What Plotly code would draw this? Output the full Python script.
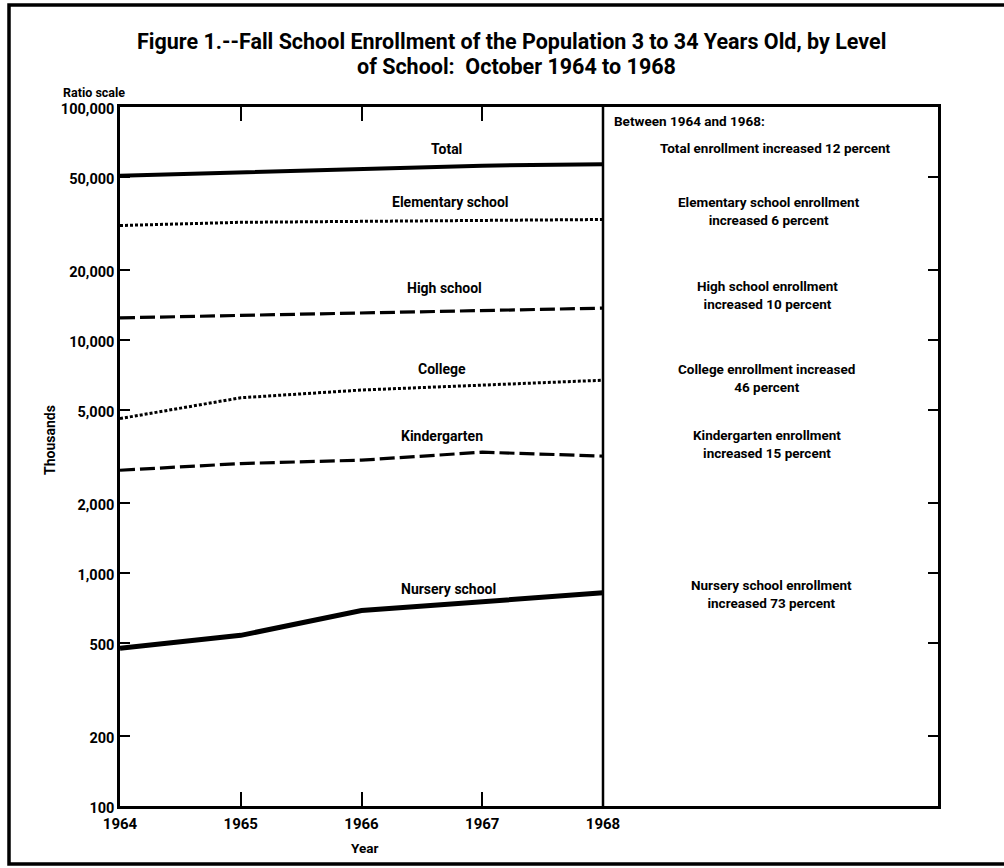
import plotly.graph_objects as go

# Fall enrollment, persons 3 to 34 years old (thousands)
years = [1964, 1965, 1966, 1967, 1968]
total = [50700, 52500, 54400, 56000, 56800]
elementary = [31000, 32000, 32300, 32600, 32900]
high_school = [12450, 12750, 13100, 13400, 13700]
college = [4600, 5650, 6100, 6400, 6720]
kindergarten = [2760, 2950, 3050, 3300, 3175]
nursery = [475, 540, 690, 750, 822]

series_names = ["Total", "Elementary school", "High school", "College",
                "Kindergarten", "Nursery school"]

change_notes = [
    "Total enrollment increased 12 percent",
    "Elementary school enrollment<br>increased 6 percent",
    "High school enrollment<br>increased 10 percent",
    "College enrollment increased<br>46 percent",
    "Kindergarten enrollment<br>increased 15 percent",
    "Nursery school enrollment<br>increased 73 percent",
]

y_tick_vals = [100, 200, 500, 1000, 2000, 5000, 10000, 20000, 50000, 100000]
y_tick_text = ["100", "200", "500", "1,000", "2,000", "5,000", "10,000",
               "20,000", "50,000", "100,000"]
x_tick_vals = [1964, 1965, 1966, 1967, 1968]
x_tick_text = ["1964", "1965", "1966", "1967", "1968"]

FONT = "Roboto, Liberation Sans, Arial, sans-serif"
W, H = 1004, 868
L, R, T, B = 120, 938, 107, 806   # plot area edges in pixels
X_1968 = 603                      # pixel column of the 1968 divider


def px(x):
    return (x - L) / (R - L)


def py(y):
    return (B - y) / (B - T)


def text_note(text, x, y, size, xanchor="center", **extra):
    return dict(x=px(x), y=py(y), xref="paper", yref="paper",
                xanchor=xanchor, yanchor="middle", text="<b>" + text + "</b>",
                showarrow=False, font=dict(size=size, family=FONT, color="black"),
                **extra)


styles = [
    dict(width=4, dash="solid"),
    dict(width=3, dash="3px,2px"),
    dict(width=3.2, dash="15px,5px"),
    dict(width=3, dash="3px,2px"),
    dict(width=3.2, dash="15px,5px"),
    dict(width=5, dash="solid"),
]
values = [total, elementary, high_school, college, kindergarten, nursery]

fig = go.Figure()
for name, vals, st in zip(series_names, values, styles):
    fig.add_trace(go.Scatter(x=years, y=vals, mode="lines", name=name,
                             line=dict(color="black", **st)))

annotations = []
# series labels above their lines
label_pos = [(446, 149), (450, 202), (444, 288), (442, 369), (442, 436), (448, 589)]
for name, (lx, ly) in zip(series_names, label_pos):
    annotations.append(text_note(name, lx, ly, 14))

# percent-change notes in the right-hand panel
note_pos = [(775, 148), (769, 211), (767, 295), (766, 378), (767, 444), (771, 594)]
for note, (nx, ny) in zip(change_notes, note_pos):
    annotations.append(text_note(note, nx, ny, 13.5, align="center"))

annotations += [
    text_note("Between 1964 and 1968:", 612, 121, 13.5, xanchor="left"),
    text_note("Figure 1.--Fall School Enrollment of the Population 3 to 34 Years Old, by Level",
              511, 41, 21.5),
    text_note("of School:  October 1964 to 1968", 516, 66, 21.5),
    text_note("Ratio scale", 61, 92, 12.5, xanchor="left"),
    text_note("Thousands", 50, 440, 14, textangle=-90),
    text_note("Year", 364, 848, 13.5),
]

shapes = [
    # divider closing the chart at 1968
    dict(type="line", xref="x", yref="paper", x0=1968, x1=1968, y0=0, y1=1,
         line=dict(color="black", width=2.5)),
    # outer frame (its right side runs off the page)
    dict(type="rect", xref="paper", yref="paper",
         x0=px(9), x1=px(1040), y0=py(864), y1=py(5),
         line=dict(color="black", width=3.5)),
]

fig.update_layout(
    width=W, height=H,
    margin=dict(l=L, r=W - R, t=T, b=H - B),
    paper_bgcolor="white", plot_bgcolor="white",
    showlegend=False,
    annotations=annotations,
    shapes=shapes,
    font=dict(family=FONT, color="black"),
)

fig.update_xaxes(
    range=[1964, 1968 + (R - X_1968) / ((X_1968 - L) / 4)],
    tickvals=x_tick_vals, ticktext=["<b>%s</b>" % t for t in x_tick_text],
    ticks="inside", ticklen=14, tickwidth=2, tickcolor="black",
    showline=True, linecolor="black", linewidth=2.5, mirror="ticks",
    showgrid=False, zeroline=False, ticklabelstandoff=2,
    tickfont=dict(size=15, family=FONT, color="black"),
)
fig.update_yaxes(
    type="log", range=[2, 5],
    tickvals=y_tick_vals, ticktext=["<b>%s</b>" % t for t in y_tick_text],
    ticks="inside", ticklen=10, tickwidth=2, tickcolor="black",
    showline=True, linecolor="black", linewidth=2.5, mirror="ticks",
    showgrid=False, zeroline=False, ticklabelshift=2,
    tickfont=dict(size=14.5, family=FONT, color="black"),
)

fig.write_html("out.html")
